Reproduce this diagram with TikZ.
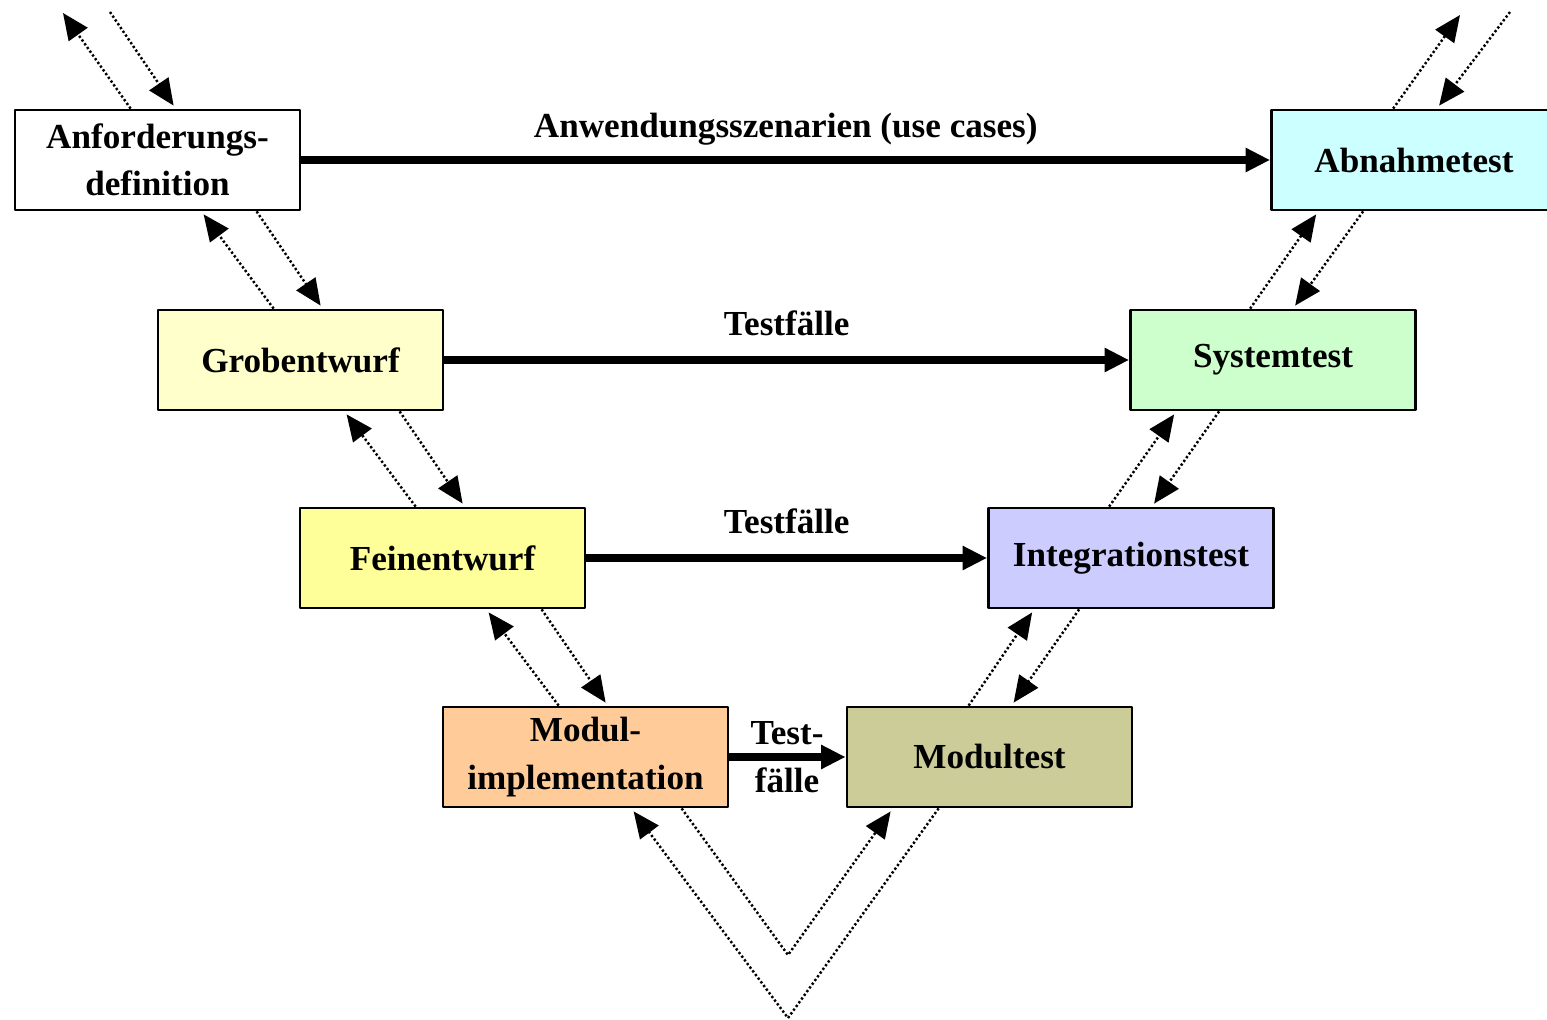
\documentclass[tikz,border=0pt]{standalone}
\usepackage{fontspec}
\setmainfont{Liberation Serif}
\usetikzlibrary{arrows.meta,calc}

\definecolor{abncol}{HTML}{CCFFFF}
\definecolor{grobcol}{HTML}{FFFFCC}
\definecolor{syscol}{HTML}{CCFFCC}
\definecolor{feincol}{HTML}{FFFF99}
\definecolor{intcol}{HTML}{CCCCFF}
\definecolor{modcol}{HTML}{FFCC99}
\definecolor{mtcol}{HTML}{CCCC99}

\tikzset{
	phase/.style={draw, line width=1.6pt, minimum width=5.7cm, minimum height=2cm, inner sep=0pt, align=center},
	flow/.style={line width=4.5pt, -{Triangle[length=14pt,width=13pt]}},
	back/.style={line width=1.4pt, dash pattern=on 1.3pt off 1.3pt, -{Triangle[length=15pt,width=13pt]}},
}

\begin{document}
\begin{tikzpicture}[x=0.02cm, y=-0.02cm, font=\fontsize{20pt}{27pt}\selectfont\bfseries, line join=round]
	\useasboundingbox[fill=white] (0,0) rectangle (1547,1020);
	% Phasen
	\node[phase] (anf) at (157.5,160) {Anforderungs-\\definition};
	\node[phase, fill=abncol] (abn) at (1414,160) {Abnahmetest};
	\node[phase, fill=grobcol] (grob) at (300.5,360) {Grobentwurf};
	\node[phase, fill=syscol] (sys) at (1273,360) {Systemtest};
	\node[phase, fill=feincol] (fein) at (442.5,558) {Feinentwurf};
	\node[phase, fill=intcol] (integ) at (1131,558) {Integrationstest};
	\node[phase, fill=modcol] (modul) at (585.5,757) {Modul-\\implementation};
	\node[phase, fill=mtcol] (modt) at (989.5,757) {Modultest};
	% Testfaelle
	\draw[flow] (anf.east) -- (abn.west) node[midway, above=3pt] (uc) {Anwendungsszenarien (use cases)};
	\draw[flow] (grob.east) -- (sys.west) node[pos=0.5, above=8pt] (tf1) {Testfälle};
	\draw[flow] (fein.east) -- (integ.west) node[pos=0.5, above=8pt] (tf2) {Testfälle};
	\draw[flow] (modul.east) -- (modt.west);
	\node[align=center] (tf3) at (787,757) {Test-\\fälle};
	% linker Ast
	\coordinate (anfup) at (63,13);
	\coordinate (anfin) at (110,12);
	\draw[back] ($(anf.north west)+(117,0)$) -- (anfup);
	\draw[back] (anfin) -- ($(anf.north west)+(160,-3)$);
	\draw[back] ($(grob.north west)+(117,0)$) -- ($(anf.south west)+(190,3)$);
	\draw[back] ($(anf.south west)+(243,0)$) -- ($(grob.north west)+(164,-3)$);
	\draw[back] ($(fein.north west)+(117,0)$) -- ($(grob.south west)+(190,3)$);
	\draw[back] ($(grob.south west)+(243,0)$) -- ($(fein.north west)+(164,-3)$);
	\draw[back] ($(modul.north west)+(117,0)$) -- ($(fein.south west)+(190,3)$);
	\draw[back] ($(fein.south west)+(243,0)$) -- ($(modul.north west)+(164,-3)$);
	% Spitze unten
	\coordinate (vin) at (788,955);
	\coordinate (vout) at (788,1018);
	\draw[back] ($(modul.south west)+(240,0)$) -- (vin) -- ($(modt.south west)+(45,3)$);
	\draw[back] ($(modt.south west)+(93,0)$) -- (vout) -- ($(modul.south west)+(192,3)$);
	% rechter Ast
	\draw[back] ($(modt.north west)+(123,0)$) -- ($(integ.south west)+(45,3)$);
	\draw[back] ($(integ.south west)+(92,0)$) -- ($(modt.north west)+(168,-3)$);
	\draw[back] ($(integ.north west)+(122,0)$) -- ($(sys.south west)+(45,3)$);
	\draw[back] ($(sys.south west)+(90,0)$) -- ($(integ.north west)+(167,-3)$);
	\draw[back] ($(sys.north west)+(121,0)$) -- ($(abn.south west)+(46,3)$);
	\draw[back] ($(abn.south west)+(93,0)$) -- ($(sys.north west)+(166,-3)$);
	\coordinate (abnup) at (1460,15);
	\coordinate (abnin) at (1510,12);
	\draw[back] ($(abn.north west)+(123,0)$) -- (abnup);
	\draw[back] (abnin) -- ($(abn.north west)+(169,-3)$);
\end{tikzpicture}
\end{document}
